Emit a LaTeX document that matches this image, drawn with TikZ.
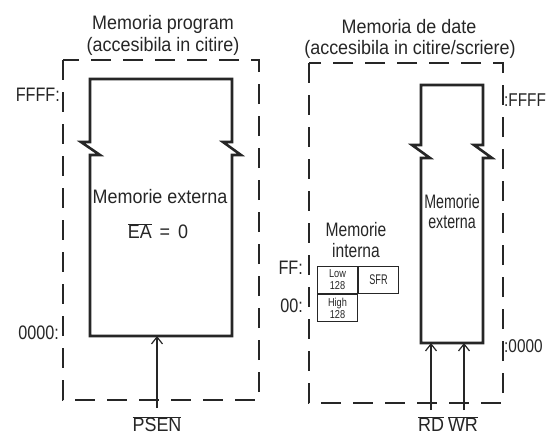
\documentclass[tikz,border=0pt]{standalone}
\usepackage{fontspec}
\setmainfont{Liberation Sans}[FakeStretch=0.92]
\newfontfamily\condf{Liberation Sans}[FakeStretch=0.73]
\newfontfamily\intf{Liberation Sans}[FakeStretch=0.8]
\newfontfamily\narf{Liberation Sans}[FakeStretch=0.83]
\newfontfamily\cellf{Liberation Sans}[FakeStretch=0.65]
\usetikzlibrary{arrows.meta}
\begin{document}
\begin{tikzpicture}[x=1pt,y=-1pt,
  txt/.style={font=\fontsize{19.5}{21}\selectfont, inner sep=0pt, text=black!85},
  txtn/.style={font=\narf\fontsize{19.5}{21}\selectfont, inner sep=0pt, text=black!85},
  txti/.style={font=\intf\fontsize{19.5}{21}\selectfont, inner sep=0pt, text=black!85},
  txtc/.style={font=\condf\fontsize{19.5}{21}\selectfont, inner sep=0pt, text=black!85},
  small/.style={font=\intf\fontsize{11.5}{12}\selectfont, align=center, text=black!85},
  sfrtxt/.style={font=\cellf\fontsize{14}{14}\selectfont, text=black!85},
  dashbox/.style={line width=1.2pt, dash pattern=on 20pt off 12pt, black!85},
  membox/.style={line width=2.6pt, line join=miter, black!85},
  cell/.style={draw=black!85, line width=1pt, minimum width=40pt, minimum height=27pt, inner sep=0pt},
  arr/.style={line width=1.2pt, black!85, -{Straight Barb[length=7pt,width=11pt,line width=1.2pt]}}]
\useasboundingbox (0,0) rectangle (548,436);

% dashed enclosures
\draw[dashbox] (63,60) rectangle (259,400);
\draw[dashbox] (309,63) rectangle (503,403);

% program memory (external)
\draw[membox] (90,142) -- (90,79) -- (232,79) -- (232,142) -- (223,142) -- (241,155)
  -- (232,155) -- (232,336) -- (90,336) -- (90,155) -- (100,155) -- (81,142) -- cycle;
\coordinate (lbot) at (157,336);

% data memory (external)
\draw[membox] (421,145) -- (421,85) -- (483,85) -- (483,145) -- (474,145) -- (492,158)
  -- (483,158) -- (483,343) -- (421,343) -- (421,158) -- (430,158) -- (412,145) -- cycle;
\coordinate (rbot) at (452,343);

% titles
\node[txt] (t1) at (163,24) {Memoria program};
\node[txt] (t2) at (163,46) {(accesibila in citire)};
\node[txt] (t3) at (409,27) {Memoria de date};
\node[txt] (t4) at (410,49) {(accesibila in citire/scriere)};

% address labels
\node[txtn, anchor=east] (ffl) at (60,95) {FFFF:};
\node[txtn, anchor=east] (zl) at (59,333) {0000:};
\node[txtn, anchor=west, font=\narf\fontsize{18.5}{20}\selectfont] (ffr) at (504,100) {:FFFF};
\node[txtn, anchor=west, font=\narf\fontsize{18.5}{20}\selectfont] (zr) at (504,346) {:0000};
\node[txtn, anchor=east] (ffi) at (303,268) {FF:};
\node[txtn, anchor=east] (zi) at (303,306) {00:};

% inner texts
\node[txt] (me1) at (160,197) {Memorie externa};
\node[txt] (ea) at (158,231) {$\overline{\mbox{EA}}$\hspace{8pt}=\hspace{8pt}0};
\node[txtc] (me2a) at (452,202) {Memorie};
\node[txtc] (me2b) at (452,222) {externa};
\node[txti] (mi1) at (356,230) {Memorie};
\node[txti] (mi2) at (356,251) {interna};

% internal memory cells
\node[cell, small, anchor=north west] (low) at (317,266) {Low\\128};
\node[cell, sfrtxt, anchor=west] (sfr) at (low.east) {SFR};
\node[cell, small, anchor=north] (high) at (low.south) {High\\128};

% control signals
\node[txt] (psen) at (157,424) {$\overline{\mbox{PSEN}}$};
\node[txt] (rd) at (431,424) {$\overline{\mbox{RD}}$};
\node[txt] (wr) at (463,424) {$\overline{\mbox{WR}}$};
\coordinate (psenS) at (157,408);
\coordinate (rdS) at (431,410);
\coordinate (wrS) at (464,410);
\draw[arr] (psenS) -- (psenS |- lbot);
\draw[arr] (rdS) -- (rdS |- rbot);
\draw[arr] (wrS) -- (wrS |- rbot);
\end{tikzpicture}
\end{document}
